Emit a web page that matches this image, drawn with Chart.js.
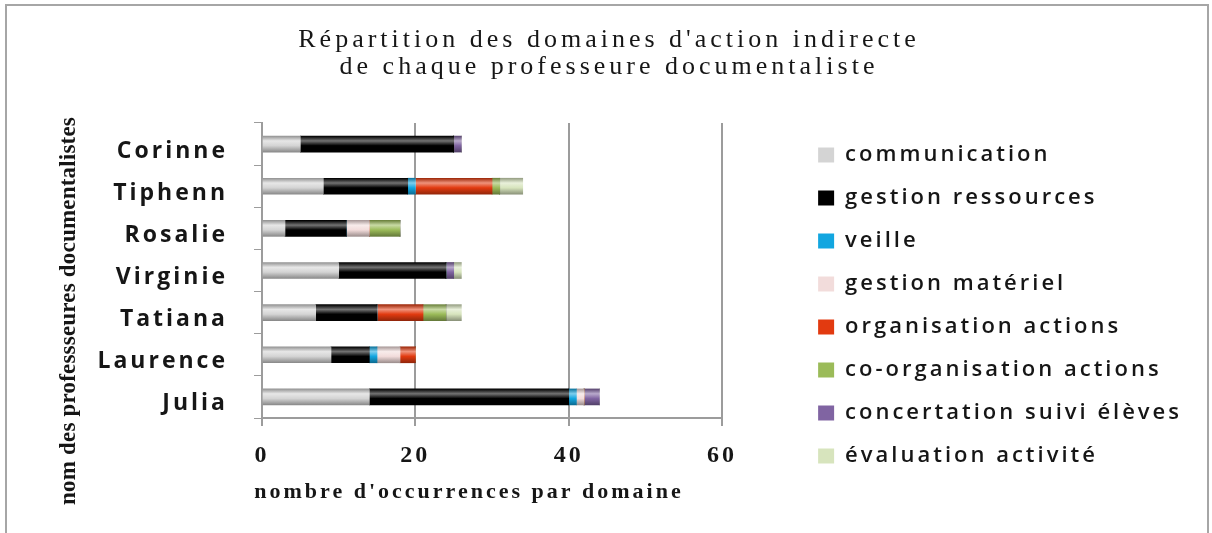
<!DOCTYPE html>
<html lang="fr">
<head>
<meta charset="utf-8">
<title>Répartition des domaines d'action indirecte</title>
<script src="https://cdn.jsdelivr.net/npm/chart.js@4.4.1/dist/chart.umd.min.js"></script>
<style>
  html, body { margin: 0; padding: 0; background: #ffffff; }
  #container { position: relative; width: 1212px; height: 533px; }
  #frame {
    position: absolute; left: 5px; top: 4px; width: 1200px; height: 545px;
    border: 2px solid #a6a6a6; pointer-events: none;
  }
</style>
</head>
<body>
<div id="container">
  <canvas id="chart" width="1212" height="533"></canvas>
  <div id="frame"></div>
</div>
<script>
// Data, professors listed top to bottom
const professeures = ['Corinne', 'Tiphenn', 'Rosalie', 'Virginie', 'Tatiana', 'Laurence', 'Julia'];

const communication       = [5, 8, 3, 10, 7, 9, 14];
const gestionRessources   = [20, 11, 8, 14, 8, 5, 26];
const veille              = [0, 1, 0, 0, 0, 1, 1];
const gestionMateriel     = [0, 0, 3, 0, 0, 3, 1];
const organisationActions = [0, 10, 0, 0, 6, 2, 0];
const coOrganisation      = [0, 1, 4, 0, 3, 0, 0];
const concertationSuivi   = [1, 0, 0, 1, 0, 0, 2];
const evaluationActivite  = [0, 3, 0, 1, 2, 0, 0];

const xTicks = [0, 20, 40, 60];

const titleLines = ['Répartition des domaines d\'action indirecte', 'de chaque professeure documentaliste'];
const xTitle = 'nombre d\'occurrences par domaine';
const yTitle = 'nom des professseures documentalistes';

const GRID_GREY = '#9c9c9c';
const TEXT = '#161616';

// Mix a hex colour towards white (amt > 0) or black (amt < 0)
function shade(hex, amt) {
    const n = parseInt(hex.slice(1), 16);
    let r = (n >> 16) & 255, g = (n >> 8) & 255, b = n & 255;
    const t = amt < 0 ? 0 : 255;
    const p = Math.abs(amt);
    r = Math.round(r + (t - r) * p);
    g = Math.round(g + (t - g) * p);
    b = Math.round(b + (t - b) * p);
    return `rgb(${r},${g},${b})`;
}

// Cylinder look: a vertical gradient across each bar
const BAR_THICKNESS = 16;
function cylinder(base) {
    return function (context) {
        const chart = context.chart;
        const yScale = chart.scales.y;
        if (context.type !== 'data' || !yScale || !chart.chartArea) {
            return base;
        }
        const yc = yScale.getPixelForValue(context.dataIndex);
        const half = BAR_THICKNESS / 2;
        const g = chart.ctx.createLinearGradient(0, yc - half, 0, yc + half);
        g.addColorStop(0, shade(base, -0.3));
        g.addColorStop(0.3, shade(base, 0.45));
        g.addColorStop(0.6, base);
        g.addColorStop(1, shade(base, -0.35));
        return g;
    };
}

const series = [
    { label: 'communication', data: communication, color: '#d4d4d4' },
    { label: 'gestion ressources', data: gestionRessources, color: '#000000' },
    { label: 'veille', data: veille, color: '#12a6e0' },
    { label: 'gestion matériel', data: gestionMateriel, color: '#f2dcdb' },
    { label: 'organisation actions', data: organisationActions, color: '#e23a10' },
    { label: 'co-organisation actions', data: coOrganisation, color: '#9bbb59' },
    { label: 'concertation suivi élèves', data: concertationSuivi, color: '#8064a2' },
    { label: 'évaluation activité', data: evaluationActivite, color: '#d7e4bd' }
];

// Extra texts drawn by hand so they can get their own letter spacing
const textPlugin = {
    id: 'texts',
    beforeUpdate(chart) { chart.ctx.letterSpacing = '3px'; },
    beforeDraw(chart) { chart.ctx.letterSpacing = '3px'; },
    afterDraw(chart) {
        const ctx = chart.ctx;
        ctx.save();
        ctx.fillStyle = TEXT;
        ctx.textAlign = 'center';
        ctx.textBaseline = 'alphabetic';

        // main title
        ctx.font = '26px "Liberation Serif", serif';
        ctx.letterSpacing = '4px';
        ctx.fillText(titleLines[0], 609, 47);
        ctx.fillText(titleLines[1], 609, 74);

        // x axis title
        ctx.font = 'bold 22px "Liberation Serif", serif';
        ctx.letterSpacing = '3px';
        ctx.fillText(xTitle, 469, 498);

        // y axis title, rotated
        ctx.font = 'bold 23px "Liberation Serif", serif';
        ctx.letterSpacing = '0.2px';
        ctx.translate(69, 311);
        ctx.rotate(-Math.PI / 2);
        ctx.textBaseline = 'middle';
        ctx.fillText(yTitle, 0, 0);
        ctx.restore();
    }
};

const chart = new Chart(document.getElementById('chart'), {
    type: 'bar',
    data: {
        labels: professeures,
        datasets: series.map(s => ({
            label: s.label,
            data: s.data,
            backgroundColor: cylinder(s.color),
            borderWidth: 0,
            barThickness: BAR_THICKNESS
        }))
    },
    options: {
        indexAxis: 'y',
        responsive: false,
        animation: false,
        layout: { padding: { top: 123, right: 20, bottom: 0, left: 0 } },
        scales: {
            x: {
                stacked: true,
                min: 0,
                max: 60,
                afterBuildTicks: s => { s.ticks = xTicks.map(v => ({ value: v })); },
                afterFit: s => { s.height = 115; },
                grid: {
                    color: c => (c.tick && c.tick.value === 0 ? 'rgba(0,0,0,0)' : GRID_GREY),
                    lineWidth: 2,
                    tickColor: GRID_GREY,
                    tickLength: 8
                },
                border: { display: true, color: GRID_GREY, width: 2 },
                ticks: {
                    padding: 15,
                    color: TEXT,
                    font: { family: '"Liberation Serif", serif', size: 24, weight: 'bold' }
                }
            },
            y: {
                stacked: true,
                afterFit: s => { s.width = 262; },
                grid: {
                    drawOnChartArea: false,
                    color: GRID_GREY,
                    tickLength: 8,
                    lineWidth: 1
                },
                border: { display: true, color: GRID_GREY, width: 2 },
                ticks: {
                    padding: 26,
                    labelOffset: 7,
                    color: TEXT,
                    font: { family: '"Open Sans", sans-serif', size: 23, weight: 'bold' }
                }
            },
            // empty axis that only keeps a gap between the plot and the legend
            gap: {
                type: 'linear',
                position: 'right',
                display: true,
                afterFit: s => { s.width = 75; },
                grid: { display: false },
                border: { display: false },
                ticks: { display: false }
            }
        },
        plugins: {
            title: { display: false },
            tooltip: { enabled: false },
            legend: {
                position: 'right',
                align: 'start',
                maxWidth: 600,
                labels: {
                    boxWidth: 16,
                    boxHeight: 15,
                    padding: 21,
                    color: TEXT,
                    font: { family: '"Open Sans", sans-serif', size: 22, weight: '600' },
                    generateLabels: c => Chart.defaults.plugins.legend.labels.generateLabels(c).map((item, i) =>
                        Object.assign(item, { fillStyle: series[i].color, strokeStyle: series[i].color, lineWidth: 0 }))
                }
            }
        }
    },
    plugins: [textPlugin]
});
</script>
</body>
</html>
